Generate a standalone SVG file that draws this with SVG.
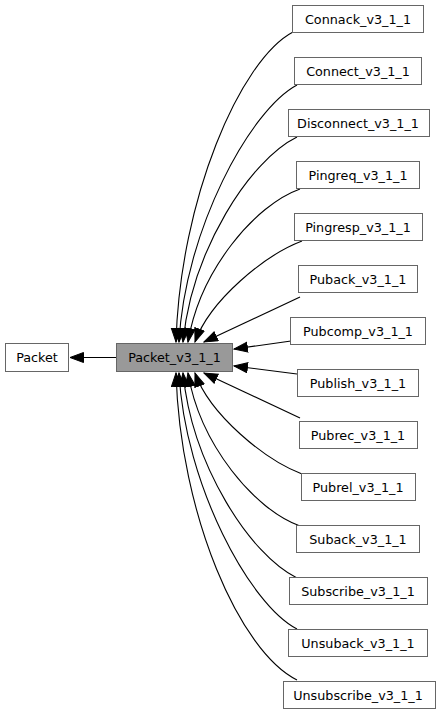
<svg xmlns="http://www.w3.org/2000/svg" width="441" height="714" viewBox="0 0 441 714">
<style>
.n rect{fill:#ffffff;stroke:#666666;stroke-width:1}
.n.cur rect{fill:#999999}
.n text{font-family:"DejaVu Sans",sans-serif;font-size:12.75px;text-anchor:middle;fill:#000000}
.e path{fill:none;stroke:#000000;stroke-width:1.1;marker-end:url(#ah)}
</style>
<defs>
<marker id="ah" markerUnits="userSpaceOnUse" markerWidth="15" markerHeight="12" refX="14" refY="5.5" orient="auto" viewBox="0 0 15 12">
<path d="M0.5,0.5 L14,5.5 L0.5,10.5 z" fill="#000000" stroke="#000000" stroke-width="1"/>
</marker>
</defs>
<g id="edges" class="e">
<path d="M116,357.5 L70,357.5"/>
<path d="M293,32 C240,60 180,200 176,342"/>
<path d="M297,85 C250,110 185,230 179,342"/>
<path d="M297,137 C250,160 192,250 183,342"/>
<path d="M300,189 C255,205 200,270 188,342"/>
<path d="M302,241 C265,255 210,300 195,342"/>
<path d="M300,297 L204,342"/>
<path d="M291,341 L234,349"/>
<path d="M297,374 L234,366"/>
<path d="M300,418 L204,373"/>
<path d="M302,474 C265,460 210,415 195,373"/>
<path d="M300,526 C255,510 200,445 188,373"/>
<path d="M297,578 C250,555 192,465 183,373"/>
<path d="M297,629 C250,605 185,485 179,373"/>
<path d="M297,680 C240,652 180,515 176,373"/>
</g>
<g id="node_Packet" class="n"><rect x="5.5" y="343.5" width="63" height="28"/><text x="37" y="362">Packet</text></g>
<g id="node_Packet_v3_1_1" class="n cur"><rect x="116.5" y="343.5" width="116" height="28"/><text x="174.5" y="362">Packet_v3_1_1</text></g>
<g id="node_Connack" class="n"><rect x="292.5" y="5.5" width="131" height="27"/><text x="358" y="23.5">Connack_v3_1_1</text></g>
<g id="node_Connect" class="n"><rect x="294.5" y="57.5" width="127" height="27"/><text x="358" y="75.5">Connect_v3_1_1</text></g>
<g id="node_Disconnect" class="n"><rect x="288.5" y="109.5" width="141" height="27"/><text x="358" y="127.5">Disconnect_v3_1_1</text></g>
<g id="node_Pingreq" class="n"><rect x="296.5" y="161.5" width="123" height="27"/><text x="358" y="179.5">Pingreq_v3_1_1</text></g>
<g id="node_Pingresp" class="n"><rect x="294.5" y="213.5" width="128" height="27"/><text x="358" y="231.5">Pingresp_v3_1_1</text></g>
<g id="node_Puback" class="n"><rect x="298.5" y="265.5" width="119" height="27"/><text x="358" y="283.5">Puback_v3_1_1</text></g>
<g id="node_Pubcomp" class="n"><rect x="290.5" y="317.5" width="135" height="27"/><text x="358" y="335.5">Pubcomp_v3_1_1</text></g>
<g id="node_Publish" class="n"><rect x="297.5" y="369.5" width="121" height="27"/><text x="358" y="387.5">Publish_v3_1_1</text></g>
<g id="node_Pubrec" class="n"><rect x="299.5" y="421.5" width="118" height="27"/><text x="358" y="439.5">Pubrec_v3_1_1</text></g>
<g id="node_Pubrel" class="n"><rect x="301.5" y="473.5" width="114" height="27"/><text x="358" y="491.5">Pubrel_v3_1_1</text></g>
<g id="node_Suback" class="n"><rect x="296.5" y="525.5" width="123" height="27"/><text x="358" y="543.5">Suback_v3_1_1</text></g>
<g id="node_Subscribe" class="n"><rect x="289.5" y="577.5" width="138" height="27"/><text x="358" y="595.5">Subscribe_v3_1_1</text></g>
<g id="node_Unsuback" class="n"><rect x="288.5" y="629.5" width="139" height="27"/><text x="358" y="647.5">Unsuback_v3_1_1</text></g>
<g id="node_Unsubscribe" class="n"><rect x="283.5" y="681.5" width="152" height="27"/><text x="358" y="699.5">Unsubscribe_v3_1_1</text></g>
</svg>
